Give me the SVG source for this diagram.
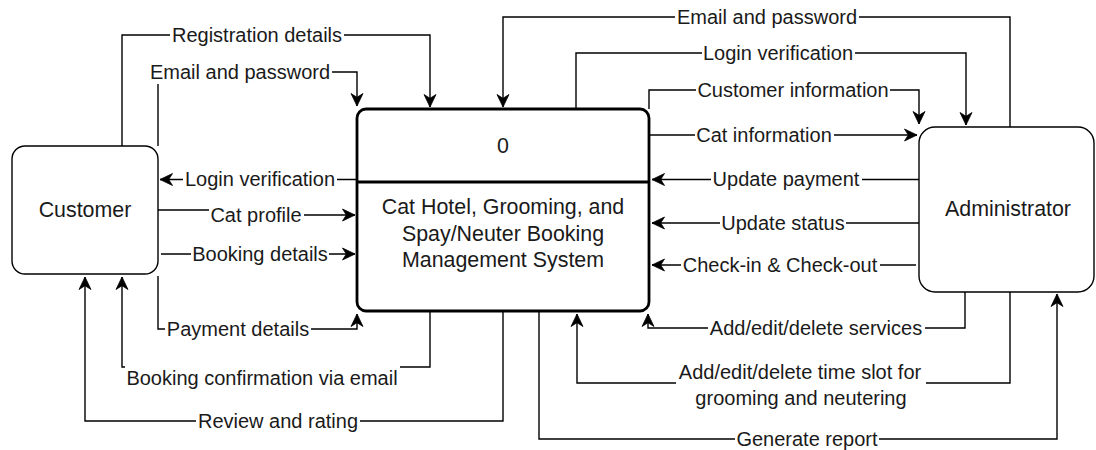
<svg xmlns="http://www.w3.org/2000/svg" width="1096" height="450" viewBox="0 0 1096 450">
<style>
.node{fill:#fff;stroke:#000;stroke-width:1.4}
.proc{fill:#fff;stroke:#000;stroke-width:2.8}
.ntx{font-family:"Liberation Sans",Arial,sans-serif;font-size:21.4px;fill:#1a1a1a;text-anchor:middle;dominant-baseline:central}
.ltx{font-family:"Liberation Sans",Arial,sans-serif;font-size:20px;fill:#1a1a1a;text-anchor:middle;dominant-baseline:central}
.edge{fill:none;stroke:#000;stroke-width:1.4;marker-end:url(#arr)}
.bg{fill:#fff}
</style>
<defs>
<marker id="arr" viewBox="-1 -1 15 15" refX="12.5" refY="6.5" markerWidth="15" markerHeight="15" markerUnits="userSpaceOnUse" orient="auto">
<path d="M0,0.5 L12.5,6.5 L0,12.5 L3.8,6.5 Z" fill="#000" stroke="#000" stroke-width="0.8" stroke-linejoin="miter"/>
</marker>
</defs>
<rect width="1096" height="450" fill="#fff"/>
<g id="connectors">
<path class="edge" d="M122,146 V35 H430 V107"/>
<path class="edge" d="M158,146 V72 H357 V106"/>
<path class="edge" d="M357,179.5 H160"/>
<path class="edge" d="M158,210 H235 V215 H355"/>
<path class="edge" d="M161,254 H355"/>
<path class="edge" d="M158,276 V329 H357 V314"/>
<path class="edge" d="M430,311 V367 H122 V277"/>
<path class="edge" d="M503,311 V421 H85 V277"/>
<path class="edge" d="M1010,127 V17 H503 V107"/>
<path class="edge" d="M576,109 V53 H966 V125"/>
<path class="edge" d="M649,109 V90 H919 V124"/>
<path class="edge" d="M649,135 H917"/>
<path class="edge" d="M919,179.5 H652"/>
<path class="edge" d="M919,223 H652"/>
<path class="edge" d="M916,265 H652"/>
<path class="edge" d="M965,292 V328 H648 V314"/>
<path class="edge" d="M1010,292 V383 H577 V314"/>
<path class="edge" d="M539,311 V439 H1057 V294"/>
<g id="labels">
<rect class="bg" x="170" y="23" width="174" height="24"/><text class="ltx" x="257" y="35">Registration details</text>
<rect class="bg" x="148" y="60" width="184" height="24"/><text class="ltx" x="240" y="72">Email and password</text>
<rect class="bg" x="183" y="167" width="154" height="24"/><text class="ltx" x="260" y="179">Login verification</text>
<rect class="bg" x="209" y="203" width="95" height="24"/><text class="ltx" x="256" y="215">Cat profile</text>
<rect class="bg" x="191" y="242" width="138" height="24"/><text class="ltx" x="260" y="254">Booking details</text>
<rect class="bg" x="165" y="317" width="146" height="24"/><text class="ltx" x="238" y="329">Payment details</text>
<rect class="bg" x="125" y="365" width="275" height="25"/><text class="ltx" x="262" y="378">Booking confirmation via email</text>
<rect class="bg" x="196" y="409" width="164" height="24"/><text class="ltx" x="278" y="421">Review and rating</text>
<rect class="bg" x="675" y="5" width="184" height="24"/><text class="ltx" x="767" y="17">Email and password</text>
<rect class="bg" x="702" y="41" width="153" height="24"/><text class="ltx" x="778" y="53">Login verification</text>
<rect class="bg" x="696" y="78" width="194" height="24"/><text class="ltx" x="793" y="90">Customer information</text>
<rect class="bg" x="695" y="123" width="139" height="24"/><text class="ltx" x="764" y="135">Cat information</text>
<rect class="bg" x="711" y="167" width="151" height="24"/><text class="ltx" x="786" y="179">Update payment</text>
<rect class="bg" x="720" y="211" width="126" height="24"/><text class="ltx" x="783" y="223">Update status</text>
<rect class="bg" x="681" y="253" width="199" height="24"/><text class="ltx" x="780" y="265">Check-in &amp; Check-out</text>
<rect class="bg" x="708" y="316" width="217" height="24"/><text class="ltx" x="816" y="328">Add/edit/delete services</text>
<rect class="bg" x="676" y="359" width="250" height="52"/><text class="ltx" x="800" y="372">Add/edit/delete time slot for</text><text class="ltx" x="801" y="398">grooming and neutering</text>
<rect class="bg" x="735" y="427" width="144" height="24"/><text class="ltx" x="807" y="439">Generate report</text>
</g>
</g>
<g id="customer">
<rect class="node" x="12" y="146" width="146" height="128" rx="13"/>
<text class="ntx" x="85" y="210">Customer</text>
</g>
<g id="process-0">
<rect class="proc" x="357" y="109" width="292" height="202" rx="9"/>
<line x1="357" y1="182" x2="649" y2="182" stroke="#000" stroke-width="2.8"/>
<text class="ntx" x="503" y="146">0</text>
<text class="ntx" x="503" y="207">Cat Hotel, Grooming, and</text>
<text class="ntx" x="503" y="233.5">Spay/Neuter Booking</text>
<text class="ntx" x="503" y="260">Management System</text>
</g>
<g id="administrator">
<rect class="node" x="919" y="127" width="175" height="165" rx="16"/>
<text class="ntx" x="1008" y="209">Administrator</text>
</g>
</svg>
